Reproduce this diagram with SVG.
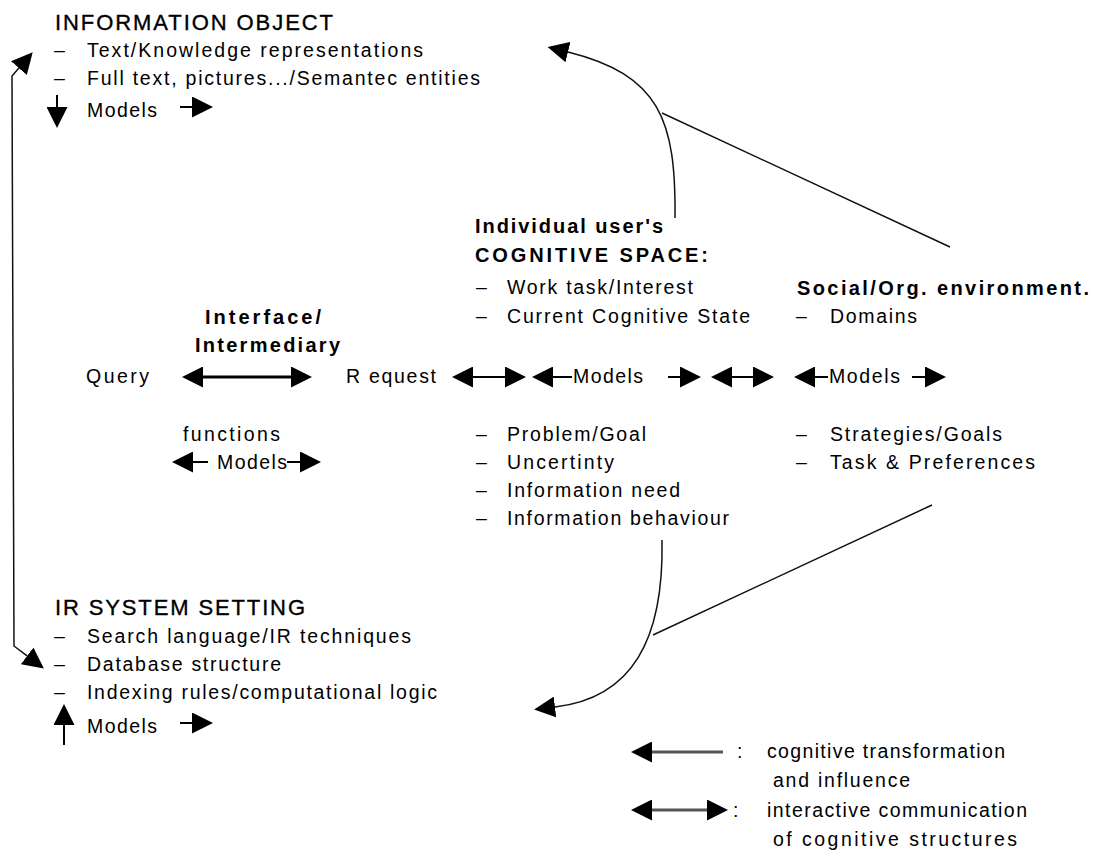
<svg xmlns="http://www.w3.org/2000/svg" width="1099" height="852" viewBox="0 0 1099 852">
<style>
text { font-family: "Liberation Sans", Arial, sans-serif; font-size: 19.5px; fill: #000; }
.h { font-size: 22px; stroke: #000; stroke-width: 0.35; }
.b { font-weight: bold; font-size: 20px; }
.ln { fill: none; stroke: #111; stroke-width: 1.5; }
.ar { fill: none; stroke: #000; stroke-width: 2; }
.ar3 { fill: none; stroke: #000; stroke-width: 3; }
.gl { fill: none; stroke: #555; stroke-width: 3; }
</style>
<defs>
<marker id="ah" viewBox="0 0 20 20" refX="0" refY="10" markerWidth="21" markerHeight="21" markerUnits="userSpaceOnUse" orient="auto-start-reverse">
<path d="M0,0 L20,10 L0,20 z" fill="#000"/>
</marker>
</defs>
<rect width="1099" height="852" fill="#fff"/>

<g id="information-object">
<text class="h" x="55" y="30" textLength="278">INFORMATION OBJECT</text>
<text x="54" y="57">–</text>
<text x="87" y="57" textLength="336">Text/Knowledge representations</text>
<text x="54" y="85">–</text>
<text x="87" y="85" textLength="393">Full text, pictures.../Semantec entities</text>
<text x="87" y="117" textLength="70">Models</text>
</g>

<g id="interface">
<text class="b" x="205" y="324" textLength="116">Interface/</text>
<text class="b" x="195" y="352" textLength="145">Intermediary</text>
<text x="86" y="383" textLength="63">Query</text>
<text x="346" y="383" textLength="90">R equest</text>
<text x="183" y="441" textLength="97">functions</text>
<text x="217" y="469" textLength="70">Models</text>
</g>

<g id="cognitive-space">
<text class="b" x="475" y="233" textLength="188">Individual user's</text>
<text class="b" x="475" y="262" textLength="233">COGNITIVE SPACE:</text>
<text x="476" y="294">–</text>
<text x="507" y="294" textLength="186">Work task/Interest</text>
<text x="476" y="323">–</text>
<text x="507" y="323" textLength="243">Current Cognitive State</text>
<text x="573" y="383" textLength="70">Models</text>
<text x="476" y="441">–</text>
<text x="507" y="441" textLength="139">Problem/Goal</text>
<text x="476" y="469">–</text>
<text x="507" y="469" textLength="107">Uncertinty</text>
<text x="476" y="497">–</text>
<text x="507" y="497" textLength="173">Information need</text>
<text x="476" y="525">–</text>
<text x="507" y="525" textLength="222">Information behaviour</text>
</g>

<g id="social-environment">
<text class="b" x="797" y="295" textLength="292">Social/Org. environment.</text>
<text x="796" y="323">–</text>
<text x="830" y="323" textLength="87">Domains</text>
<text x="829" y="383" textLength="71">Models</text>
<text x="796" y="441">–</text>
<text x="830" y="441" textLength="172">Strategies/Goals</text>
<text x="796" y="469">–</text>
<text x="830" y="469" textLength="205">Task &amp; Preferences</text>
</g>

<g id="ir-system-setting">
<text class="h" x="55" y="615" textLength="250">IR SYSTEM SETTING</text>
<text x="54" y="643">–</text>
<text x="87" y="643" textLength="324">Search language/IR techniques</text>
<text x="54" y="671">–</text>
<text x="87" y="671" textLength="194">Database structure</text>
<text x="54" y="699">–</text>
<text x="87" y="699" textLength="350">Indexing rules/computational logic</text>
<text x="87" y="733" textLength="70">Models</text>
</g>

<g id="legend">
<text x="737" y="758">:</text>
<text x="767" y="758" textLength="238">cognitive transformation</text>
<text x="773" y="787" textLength="137">and influence</text>
<text x="733" y="817">:</text>
<text x="767" y="817" textLength="260">interactive communication</text>
<text x="773" y="846" textLength="244">of cognitive structures</text>
</g>

<g id="connectors">
<path class="ln" stroke="#333" d="M18.9,68.1 L12,76 L14,646 L27.1,655.9" marker-start="url(#ah)" marker-end="url(#ah)"/>
<path class="ln" d="M675,218 C676,120 660,75 568,52" marker-end="url(#ah)"/>
<path class="ln" d="M662,113 L950,247"/>
<path class="ln" d="M662,540 C664,640 632,698 555,707" marker-end="url(#ah)"/>
<path class="ln" d="M653,635 L932,505"/>
<path class="ar" d="M57,95 V107" marker-end="url(#ah)"/>
<path class="ar" d="M180,107 H192" marker-end="url(#ah)"/>
<path class="ar" d="M64,745 V725" marker-end="url(#ah)"/>
<path class="ar" d="M180,723 H192" marker-end="url(#ah)"/>
<path class="ar" d="M208,462 H193" marker-end="url(#ah)"/>
<path class="ar" d="M287,462 H300" marker-end="url(#ah)"/>
<path class="ar3" d="M203,377 H291" marker-start="url(#ah)" marker-end="url(#ah)"/>
<path class="ar" d="M473,377 H505" marker-start="url(#ah)" marker-end="url(#ah)"/>
<path class="ar" d="M572,377 H553" marker-end="url(#ah)"/>
<path class="ar" d="M668,377 H680" marker-end="url(#ah)"/>
<path class="ar" d="M732,377 H753" marker-start="url(#ah)" marker-end="url(#ah)"/>
<path class="ar" d="M828,377 H815" marker-end="url(#ah)"/>
<path class="ar" d="M912,377 H925" marker-end="url(#ah)"/>
<path class="gl" d="M723,752 H652" marker-end="url(#ah)"/>
<path class="gl" d="M652,810 H707" marker-start="url(#ah)" marker-end="url(#ah)"/>
</g>
</svg>
